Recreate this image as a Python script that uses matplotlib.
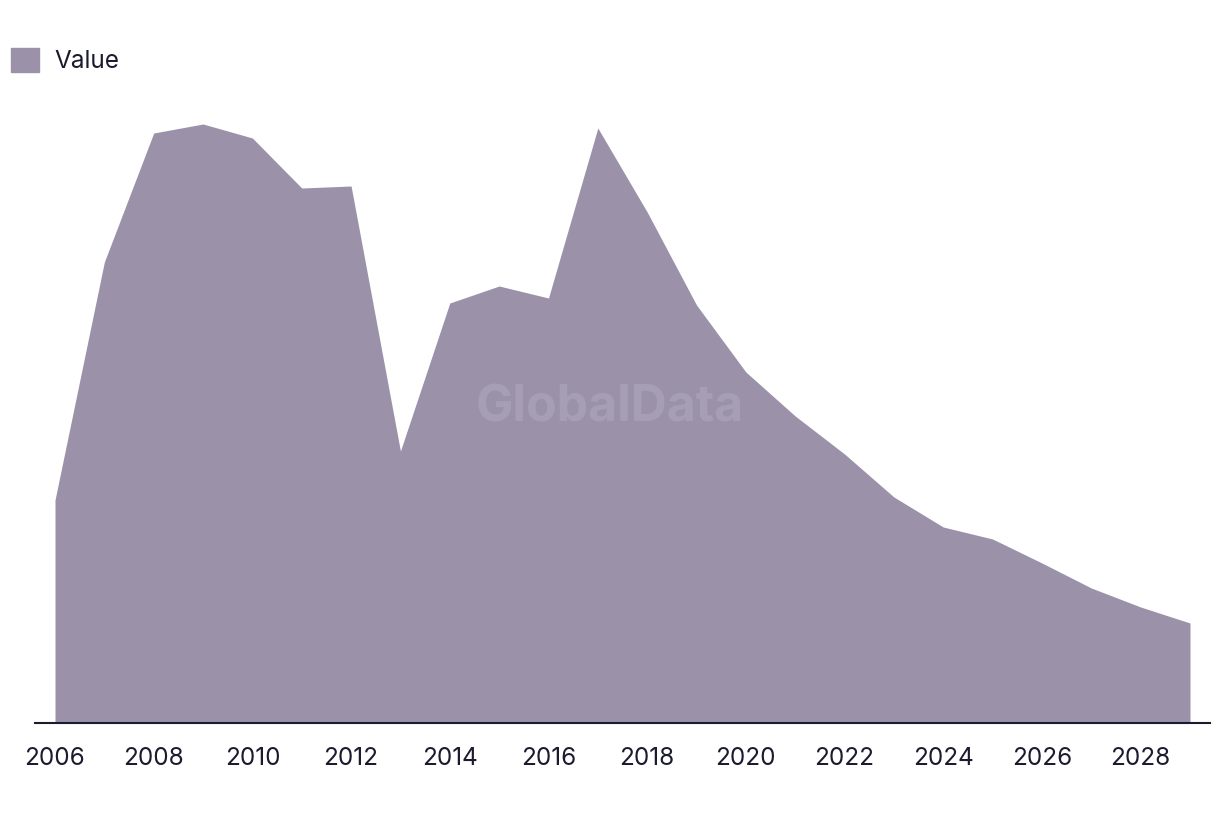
import matplotlib.pyplot as plt
from matplotlib.patches import Patch

plt.rcParams['font.family'] = ['Inter', 'DejaVu Sans']

years = list(range(2006, 2030))
values = [223, 461, 590, 599, 585, 535, 537, 272, 420, 437, 425, 595,
          511, 418, 351, 307, 269, 226, 196, 184, 160, 135, 116, 100]
tick_years = list(range(2006, 2030, 2))

fill_color = '#9b92aa'
text_color = '#1b1a2e'

fig = plt.figure(figsize=(12.2, 8.16), dpi=100)
ax = fig.add_axes([35 / 1220, 1 - 723 / 816, 1175 / 1220, 650 / 816])

ax.fill_between(years, values, 0, color=fill_color, linewidth=0)

ax.set_xlim(2006 - 20 / 49.35, 2029 + 20 / 49.35)
ax.set_ylim(0, 650)

for side in ['top', 'right', 'left']:
    ax.spines[side].set_visible(False)
ax.spines['bottom'].set_color(text_color)
ax.spines['bottom'].set_linewidth(1.5)
ax.set_yticks([])
ax.set_xticks(tick_years)
ax.set_xticklabels([str(y) for y in tick_years])
ax.tick_params(axis='x', length=0, pad=17, labelsize=17.5, labelcolor=text_color)

ax.text(0.489, 0.485, 'GlobalData', transform=ax.transAxes, ha='center', va='center',
        fontsize=36, fontweight='bold', color='#a69fb4')

leg = fig.legend(handles=[Patch(color=fill_color, label='Value')],
                 loc='upper left', bbox_to_anchor=(-6 / 1220, 1 - 31 / 816),
                 frameon=False, fontsize=17.5, handlelength=1.15, handleheight=1.15,
                 handletextpad=0.65, borderaxespad=0.3)
for t in leg.get_texts():
    t.set_color(text_color)

fig.savefig('out.png', dpi=100)
